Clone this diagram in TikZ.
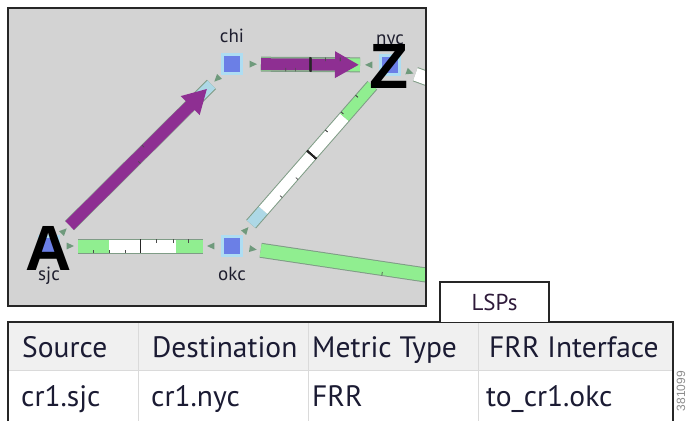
\documentclass[tikz,border=0pt]{standalone}
\usepackage{fontspec}
\setmainfont{PT Sans}
\newfontfamily\markfont{Liberation Sans}
\usetikzlibrary{positioning,calc,arrows.meta}

\definecolor{mapgray}{HTML}{D3D3D3}
\definecolor{routerblue}{HTML}{6B7FE6}
\definecolor{routerhalo}{HTML}{AEDDF2}
\definecolor{ifgreen}{HTML}{90EE90}
\definecolor{iflightblue}{HTML}{ADD8E6}
\definecolor{ifedge}{HTML}{7F9C86}
\definecolor{lsppurple}{HTML}{8E2F92}
\definecolor{dirgreen}{HTML}{6F9A7C}
\definecolor{sitetext}{HTML}{1E1E2E}
\definecolor{celltext}{HTML}{1B1B33}
\definecolor{tabtext}{HTML}{2E1A3A}
\definecolor{gridgray}{HTML}{DADADA}
\definecolor{headfill}{HTML}{F0F0F0}

\tikzset{
  router/.style={rectangle, fill=routerblue, draw=routerhalo, line width=2.5pt, minimum size=19pt, inner sep=0pt},
  site/.style={font=\fontsize{19}{19}\selectfont, text=sitetext, inner sep=0pt},
  endpoint/.style={font=\markfont\bfseries\fontsize{64}{64}\selectfont, inner sep=0pt},
  lsp/.style={draw=lsppurple, line width=12pt, -{Triangle[length=24pt,width=25pt]}},
  tick/.style={draw=black!70, line width=0.7pt},
  divider/.style={draw=black!85, line width=1.6pt},
  dirmark/.style={fill=dirgreen},
  cell/.style={anchor=base west, font=\fontsize{29.5}{29.5}\selectfont, text=celltext, inner sep=0pt},
  grid/.style={draw=gridgray, line width=1pt},
  frame/.style={draw=black!85, line width=1.5pt}
}

% interface band: from, to, inner width, segments
\newcommand{\ifband}[4]{%
  \draw[draw=ifedge, line width=#3+2pt] (#1) -- (#2);
  \foreach \a/\b/\c in {#4}
    \draw[draw=\c, line width=#3] ($(#1)!\a!(#2)$) -- ($(#1)!\b!(#2)$);
}
% tick on a band: from, to, pos, edge offset, inner offset
\newcommand{\iftick}[5]{%
  \draw[tick] ($(#1)!#3!(#2)!#4!90:(#2)$) -- ($(#1)!#3!(#2)!#5!90:(#2)$);
}

\begin{document}
\begin{tikzpicture}[x=1pt, y=-1pt]
\useasboundingbox (0,0) rectangle (688,421);

\fill[mapgray] (8,8) rectangle (426,306);
\begin{scope}
\clip (8,8) rectangle (426,306);
\node[router] (chi) at (232,64) {};
\node[router] (nyc) at (390,65) {};
\node[router] (okc) at (232,246) {};
\node[router] (sjc) at (49,246) {};
\coordinate (east) at (600,301);
\coordinate (nycout) at (560,127);

\coordinate (so) at ($(sjc)!29pt!(okc)$);
\coordinate (os) at ($(okc)!29pt!(sjc)$);
\coordinate (sc) at ($(sjc)!29pt!(chi)$);
\coordinate (cs) at ($(chi)!29pt!(sjc)$);
\coordinate (cn) at ($(chi)!29pt!(nyc)$);
\coordinate (nc) at ($(nyc)!30pt!(chi)$);
\coordinate (on) at ($(okc)!29pt!(nyc)$);
\coordinate (no) at ($(nyc)!27pt!(okc)$);
\coordinate (oe) at ($(okc)!29pt!(east)$);
\coordinate (nx) at ($(nyc)!27pt!(nycout)$);

\ifband{so}{os}{13pt}{0/.25/ifgreen, .25/.78/white, .78/1/ifgreen}
\foreach \p in {.12,.25,.38} \iftick{so}{os}{\p}{-7pt}{-3.5pt}
\foreach \p in {.63,.76,.88} \iftick{so}{os}{\p}{7pt}{3.5pt}
\draw[divider] ($(so)!.5!(os)!7pt!90:(os)$) -- ($(so)!.5!(os)!-7pt!90:(os)$);

\ifband{sc}{cs}{11pt}{0/.9/white, .9/1/iflightblue}
\draw[lsp] (sc) -- ($(sc)!.97!(cs)$);
\iftick{sc}{cs}{.47}{-6pt}{-3pt}
\iftick{sc}{cs}{.54}{6pt}{3pt}

\ifband{cn}{nc}{13pt}{0/1/ifgreen}
\draw[lsp] (cn) -- ($(cn)!.99!(nc)$);
\foreach \p in {.25,.35} \iftick{cn}{nc}{\p}{-7pt}{-3.5pt}
\foreach \p in {.65,.8} \iftick{cn}{nc}{\p}{7pt}{3.5pt}
\draw[divider] ($(cn)!.5!(nc)!7pt!90:(nc)$) -- ($(cn)!.5!(nc)!-7pt!90:(nc)$);

\ifband{on}{no}{11pt}{0/.1/iflightblue, .1/.77/white, .77/1/ifgreen}
\foreach \p in {.22,.35} \iftick{on}{no}{\p}{-6pt}{-3pt}
\foreach \p in {.65,.78,.9} \iftick{on}{no}{\p}{6pt}{3pt}
\draw[divider] ($(on)!.5!(no)!6pt!90:(no)$) -- ($(on)!.5!(no)!-6pt!90:(no)$);

\ifband{oe}{east}{13pt}{0/1/ifgreen}
\iftick{oe}{east}{.36}{-7pt}{-3.5pt}

\ifband{nx}{nycout}{13pt}{0/1/white}

\foreach \a/\b in {sjc/okc, okc/sjc, sjc/chi, chi/sjc, chi/nyc, nyc/chi, okc/nyc, nyc/okc, okc/east, nyc/nycout}
  \fill[dirmark] ($(\a)!25pt!(\b)$) -- ($(\a)!18pt!11:(\b)$) -- ($(\a)!18pt!-11:(\b)$) -- cycle;

\node[site, above=10pt of chi] (chilbl) {chi};
\node[site, above=5.5pt of nyc] (nyclbl) {nyc};
\node[site, below=10pt of sjc] (sjclbl) {sjc};
\node[site, below=10.5pt of okc] (okclbl) {okc};

\node[endpoint] (srcmark) at ([yshift=-2pt]sjc) {A};
\node[endpoint] (dstmark) at ([xshift=-1pt, yshift=-1.5pt]nyc) {Z};
\end{scope}
\draw[frame] (8,8) rectangle (426,306);

\fill[headfill] (8,322) rectangle (673,370);
\draw[grid] (8,370) -- (673,370);
\foreach \x in {138,308,478} \draw[grid] (\x,322) -- (\x,421);
\draw[frame] (8,421) -- (8,322) -- (673,322) -- (673,421);
\draw[frame, fill=white] (440,322) -- (440,282) -- (549,282) -- (549,322);
\node[font=\fontsize{23}{23}\selectfont, text=tabtext] (tab) at (494.5,302) {LSPs};

\node[cell] (hsrc) at (22,357) {Source};
\node[cell] (hdst) at (152,357) {Destination};
\node[cell] (hmet) at (312,357) {Metric Type};
\node[cell] (hfrr) at (489,357) {FRR Interface};
\node[cell] (csrc) at (21,406) {cr1.sjc};
\node[cell] (cdst) at (151,406) {cr1.nyc};
\node[cell] (cmet) at (312,406) {FRR};
\node[cell] (cfrr) at (486,406) {to\_cr1.okc};

\node[rotate=90, font=\markfont\fontsize{12}{12}\selectfont, text=black!45] (figid) at (681,391) {381099};
\end{tikzpicture}
\end{document}
